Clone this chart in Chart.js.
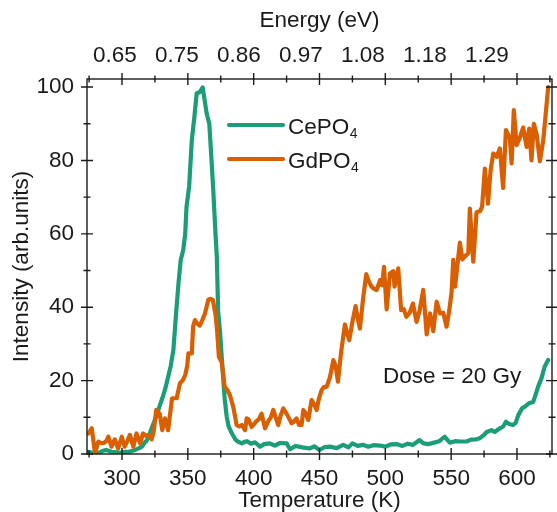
<!DOCTYPE html>
<html>
<head>
  <meta charset="utf-8" />
  <script src="https://cdn.jsdelivr.net/npm/chart.js@4.4.1/dist/chart.umd.min.js"></script>
  <style>
    html, body { margin: 0; padding: 0; background: #fff; }
    #wrap { width: 557px; height: 512px; }
  </style>
</head>
<body>
<div id="wrap"><canvas id="tl"></canvas></div>

<script>
/* ---------- Data ---------- */
// CePO4: temperature (K) and intensity (arb. units)
const ceTemp = [274,278,281,285,288,292,295,298,302,305,308,310,313,315,317,319,321,323,326,328,
  331,333,335,337,339,341,343,344.6,346.5,348,349,351,353,355,356.7,359,361.3,362.5,364.3,366.3,
  368,369.3,371,372,373,374.5,376,378,379.5,381,383.3,386,388,391,393,395,398,401,404.8,408,
  412,416,420,425,427.6,432,437,442.7,446,450,454,458,463,468,472,475,479,483,487,491,
  496,500,504,508.6,513,517,521,526,529,533,537,541,545,549,553,557,561.7,565,569,571.8,
  575,577,580.6,583,587,589.5,591.6,594,597,599,601,604,606,609,612.3,614,616,618.6,621,623.7];
const ceInt = [0.6,0.3,0.1,0.8,1.1,0.6,0.5,0.3,0.6,0.6,0.9,1.1,1.6,2.0,3.0,3.8,5.5,7.5,10.2,12.5,
  15.6,18.0,21.0,24.0,28.3,38.0,47.0,52.9,55.6,60.0,67.4,73.0,85.5,92.0,98.3,98.6,99.9,97.0,92.8,90.0,
  80.0,72.0,60.0,53.8,39.0,33.0,25.0,15.0,10.2,7.5,5.7,4.0,3.4,2.9,3.3,3.5,2.8,3.2,2.0,2.7,
  2.9,2.3,3.0,2.9,1.3,2.2,1.8,1.5,2.1,1.1,1.9,2.0,1.6,2.5,1.8,2.9,2.2,2.5,2.0,2.4,
  2.3,2.0,2.6,2.7,2.2,2.8,2.5,3.8,2.9,2.7,3.1,3.5,4.7,3.1,3.5,3.4,3.4,3.9,4.0,4.3,
  5.2,6.0,6.5,6.0,7.0,7.5,8.8,8.2,7.9,8.5,10.6,12.5,12.9,13.8,14.2,16.0,18.3,20.6,23.8,25.6];

// GdPO4
const gdTemp = [274.5,277,279.5,282,284,286,288,289.6,292,294.5,297,299.8,302,304,306,308.6,311,313.7,316,318,
  320,322.5,324,326,328.6,330.6,332.6,335,338,341.5,344,346,348,349.5,350.4,353,354,355.4,357,359,
  361,363,365.5,367,369,371,372,373.6,375.7,378,380,382,384.5,386,387,389,391,393.4,394.7,396,
  398.5,399.6,402,404,406,408.6,411,413,414.9,416.7,418.7,420.5,422.5,425,428.8,430.5,432.6,434.5,436.4,437.7,
  439,441.5,444,446,447.8,449.5,451.6,453.5,455.4,458,460.5,462.3,464,466.5,469.3,471,472.6,475,477.4,479,
  480.7,483,485.5,487.5,489.6,491.5,493.4,496,497.5,499,501,503.5,506,507,509.8,512,514,516,518.5,521,
  523.7,526,528.8,531.4,534,536.4,539,541.6,544,546.5,548.5,550.3,551.6,553,556.6,558.5,560.3,563,564.2,566.8,
  569.3,572,573.5,575.6,578,580,582,584.6,587,589.5,591.6,594.6,595.9,597.6,599.7,602,604.7,607.3,609.3,611,
  612.8,615,617.4,620,623.7];
const gdInt = [5.6,7.0,0.2,3.4,3.0,3.0,3.5,4.7,2.0,4.0,1.5,4.7,2.0,3.5,5.2,2.0,5.6,2.9,5.6,5.0,
  5.2,4.0,6.0,12.0,11.0,6.5,9.7,6.5,15.2,15.2,19.3,20.0,21.5,24.0,27.4,27.4,34.7,36.5,35.6,35.0,
  36.5,38.3,42.0,42.3,42.0,38.0,34.7,26.5,25.0,18.3,17.5,16.0,12.8,10.0,7.9,7.5,7.9,6.5,9.7,9.5,
  7.4,7.9,8.9,9.5,11.0,7.0,8.9,10.0,12.0,10.0,7.9,10.5,12.4,11.0,8.4,8.8,9.7,7.9,7.9,12.0,
  11.4,9.3,14.7,13.5,12.0,15.0,17.4,18.3,18.3,21.0,25.6,24.0,19.7,28.0,35.3,33.0,31.0,36.0,40.3,37.0,
  34.2,42.0,49.0,47.0,45.6,45.0,44.7,47.4,46.0,51.0,39.4,49.2,49.8,45.6,50.6,39.2,39.5,37.4,38.5,41.0,
  36.0,39.0,44.7,32.6,38.3,33.5,41.5,38.3,38.5,34.7,39.0,44.0,52.9,45.6,57.6,53.0,53.8,54.7,66.9,52.4,
  65.9,66.2,67.4,77.8,68.2,77.5,81.9,81.0,83.3,72.5,88.3,86.0,79.2,93.7,84.2,86.0,89.0,83.7,88.7,80.0,
  90.0,87.0,79.8,85.6,100.0];

// axis labels
const tempTicks = [300, 350, 400, 450, 500, 550, 600];
const energyLabels = ['0.65', '0.75', '0.86', '0.97', '1.08', '1.18', '1.29'];
const intensityTicks = [0, 20, 40, 60, 80, 100];
const seriesNames = [['CePO', '4'], ['GdPO', '4']];

/* ---------- Style ---------- */
const GREEN = '#1b9e77', ORANGE = '#d95f02', INK = '#1a1a1a';
const FAMILY = '"Liberation Sans", Arial, Helvetica, sans-serif';
const FS = 22.5;

const toPoints = (xs, ys) => xs.map((t, i) => ({ x: t, y: ys[i] }));

/* ---------- Frame + crossing tick marks ---------- */
const frameTicks = {
  id: 'frameTicks',
  afterDatasetsDraw(chart) {
    const { ctx, chartArea: a, scales: { x, y } } = chart;
    ctx.save();
    ctx.strokeStyle = INK;
    ctx.lineWidth = 1.4;
    ctx.strokeRect(a.left, a.top, a.right - a.left, a.bottom - a.top);
    ctx.beginPath();
    for (let t = 275; t <= 625; t += 25) {
      const px = x.getPixelForValue(t);
      const len = t % 50 === 0 ? 6 : 3.5;
      ctx.moveTo(px, a.bottom - len); ctx.lineTo(px, a.bottom + len);
      ctx.moveTo(px, a.top - len); ctx.lineTo(px, a.top + len);
    }
    for (let v = 0; v <= 100; v += 10) {
      const py = y.getPixelForValue(v);
      const len = v % 20 === 0 ? 6 : 3.5;
      ctx.moveTo(a.left - len, py); ctx.lineTo(a.left + len, py);
      ctx.moveTo(a.right - len, py); ctx.lineTo(a.right + len, py);
    }
    ctx.stroke();
    ctx.restore();
  }
};

/* ---------- Legend with subscripts + dose note ---------- */
const legendNote = {
  id: 'legendNote',
  afterDraw(chart) {
    const { ctx } = chart;
    ctx.save();
    const rows = [125, 159];
    chart.data.datasets.forEach(ds => {
      const k = ds.legendRow, yy = rows[k];
      ctx.strokeStyle = ds.borderColor;
      ctx.lineWidth = 4.2;
      ctx.lineCap = 'round';
      ctx.beginPath(); ctx.moveTo(229, yy); ctx.lineTo(283, yy); ctx.stroke();
      ctx.fillStyle = INK;
      ctx.textBaseline = 'alphabetic';
      ctx.font = `${FS}px ${FAMILY}`;
      const [base, sub] = seriesNames[k];
      ctx.fillText(base, 288, yy + 9);
      const w = ctx.measureText(base).width;
      ctx.font = `${FS * 0.62}px ${FAMILY}`;
      ctx.fillText(sub, 288 + w + 0.5, yy + 12.5);
    });
    ctx.font = `${FS}px ${FAMILY}`;
    ctx.fillText('Dose = 20 Gy', 383, 383);
    ctx.restore();
  }
};

/* ---------- Chart ---------- */
const tickFont = { family: FAMILY, size: FS };

new Chart(document.getElementById('tl'), {
  type: 'line',
  data: {
    datasets: [
      { label: 'GdPO4', legendRow: 1, data: toPoints(gdTemp, gdInt), borderColor: ORANGE },
      { label: 'CePO4', legendRow: 0, data: toPoints(ceTemp, ceInt), borderColor: GREEN }
    ]
  },
  options: {
    responsive: true, maintainAspectRatio: false, animation: false,
    layout: { padding: { right: 5 } },
    elements: {
      line: { borderWidth: 4.2, tension: 0, borderJoinStyle: 'round', borderCapStyle: 'round' },
      point: { radius: 0 }
    },
    plugins: { legend: { display: false }, tooltip: { enabled: false } },
    scales: {
      x: {
        type: 'linear', position: 'bottom', min: 273.4, max: 626.6,
        afterBuildTicks: s => { s.ticks = tempTicks.map(v => ({ value: v })); },
        afterFit: s => { s.height = 58; },
        grid: { display: false, drawTicks: false }, border: { display: false },
        ticks: { color: INK, font: tickFont, padding: 11, maxRotation: 0 },
        title: { display: true, text: 'Temperature (K)', color: INK, font: tickFont, padding: { top: 0, bottom: -2 } }
      },
      x2: {
        type: 'linear', position: 'top', min: -0.45, max: 7.05,
        afterBuildTicks: s => { s.ticks = energyLabels.map((_, i) => ({ value: i })); },
        afterFit: s => { s.height = 79; },
        grid: { display: false, drawTicks: false }, border: { display: false },
        ticks: { color: INK, font: tickFont, padding: 10, maxRotation: 0, callback: v => energyLabels[v] },
        title: { display: true, text: 'Energy (eV)', color: INK, font: tickFont, padding: { top: 7, bottom: 0 } }
      },
      y: {
        type: 'linear', position: 'left', min: 0, max: 102.2,
        afterBuildTicks: s => { s.ticks = intensityTicks.map(v => ({ value: v })); },
        afterFit: s => { s.width = 87; },
        grid: { display: false, drawTicks: false }, border: { display: false },
        ticks: { color: INK, font: tickFont, padding: 13 },
        title: { display: true, text: 'Intensity (arb.units)', color: INK, font: tickFont, padding: { top: 8.5, bottom: 0 } }
      }
    }
  },
  plugins: [frameTicks, legendNote]
});
</script>
</body>
</html>
